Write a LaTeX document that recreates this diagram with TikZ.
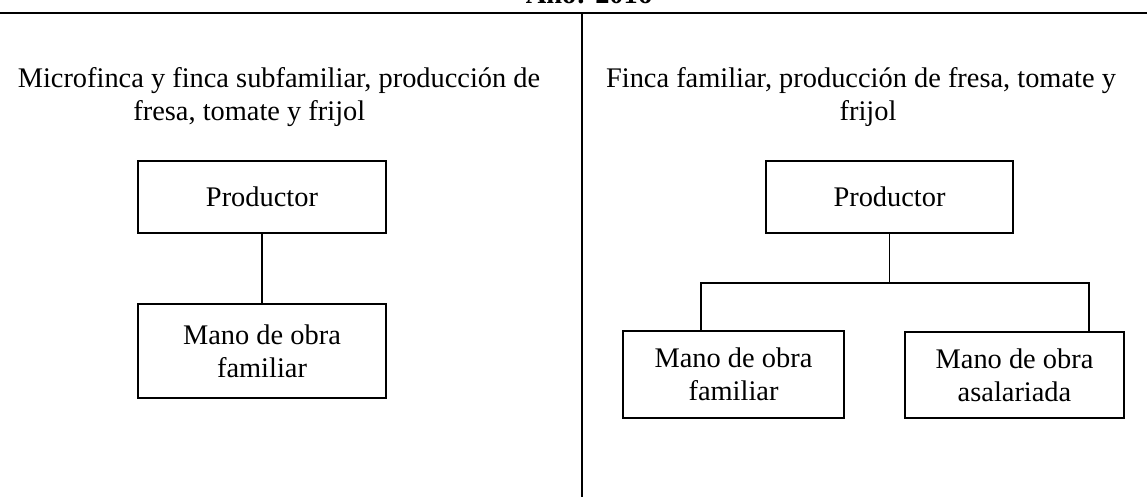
\documentclass[tikz,border=0pt]{standalone}
\usepackage{fontspec}
\setmainfont{Liberation Serif}
\tikzset{
  box/.style={draw, line width=1pt, inner sep=0pt, align=center, font=\fontsize{14.2}{16.5}\selectfont},
  lbl/.style={inner sep=0pt, font=\fontsize{14.2}{16.5}\selectfont},
  conn/.style={line width=0.9pt},
  rule/.style={line width=1pt}
}
\begin{document}
\begin{tikzpicture}[x=0.5pt,y=-0.5pt]
\useasboundingbox (0,0) rectangle (1147,497);
\clip (0,0) rectangle (1147,497);
% title (cut off)
\node[lbl, anchor=base, font=\fontsize{14.2}{16.5}\selectfont\bfseries] (title) at (589,4) {Año: 2016};
\coordinate (hl) at (0,13);
\coordinate (hr) at (1147,13);
\draw[rule] (hl) -- (hr);
\coordinate (vt) at (582,13);
\coordinate (vb) at (582,497);
\draw[conn] (vt) -- (vb);
% left heading
\node[lbl, anchor=base] (lh1) at (279,88) {Microfinca y finca subfamiliar, producción de};
\node[lbl, anchor=base west] (lh2) at (133,121) {fresa, tomate y frijol};
% right heading
\node[lbl, anchor=base] (rh1) at (861,88) {Finca familiar, producción de fresa, tomate y};
\node[lbl, anchor=base] (rh2) at (868,121) {frijol};
% left chart
\node[box, minimum width=124pt, minimum height=36pt] (lp) at (262,197) {Productor};
\node[box, minimum width=124pt, minimum height=47pt] (lf) at (262,351) {Mano de obra\\familiar};
\draw[conn] (lp.south) -- (lf.north);
% right chart
\node[box, minimum width=123.5pt, minimum height=36pt] (rp) at (889.5,197) {Productor};
\node[box, minimum width=110.5pt, minimum height=43.5pt] (rf) at (733.5,374.5) {Mano de obra\\familiar};
\node[box, minimum width=109.5pt, minimum height=43pt] (ra) at (1014.5,375) {Mano de obra\\asalariada};
\draw[conn] (rp.south) -- ++(0,49) coordinate (bar);
\draw[conn] ([xshift=-16.25pt]rf.north) |- (bar) -| ([xshift=37.25pt]ra.north);
\end{tikzpicture}
\end{document}
